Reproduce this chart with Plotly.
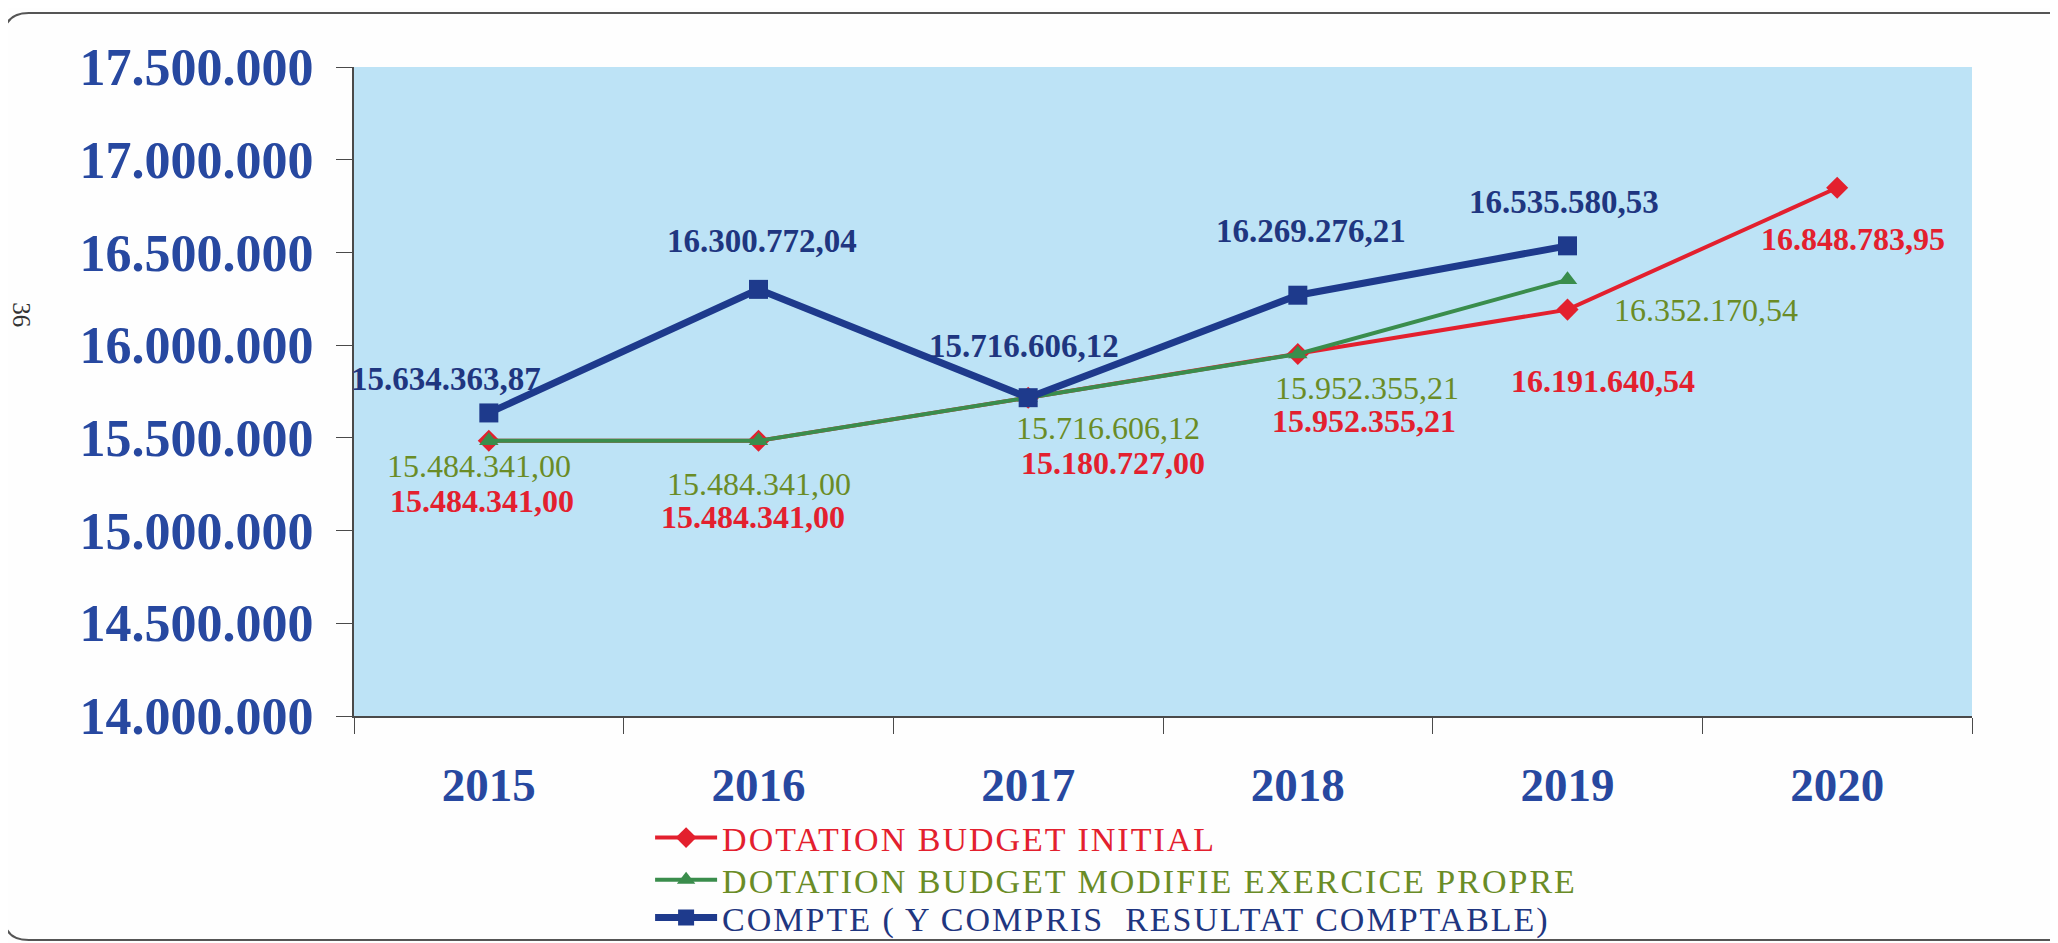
import plotly.graph_objects as go

# ---------------- data ----------------
years = ["2015", "2016", "2017", "2018", "2019", "2020"]

budget_initial = [15484341.00, 15484341.00, 15716606.12, 15952355.21, 16191640.54, 16848783.95]
budget_initial_labels = ["15.484.341,00", "15.484.341,00", "15.180.727,00",
                         "15.952.355,21", "16.191.640,54", "16.848.783,95"]

budget_modifie = [15484341.00, 15484341.00, 15716606.12, 15952355.21, 16352170.54, None]
budget_modifie_labels = ["15.484.341,00", "15.484.341,00", "15.716.606,12",
                         "15.952.355,21", "16.352.170,54", None]

compte = [15634363.87, 16300772.04, 15716606.12, 16269276.21, 16535580.53, None]
compte_labels = ["15.634.363,87", "16.300.772,04", "15.716.606,12",
                 "16.269.276,21", "16.535.580,53", None]

y_tick_vals = [14000000, 14500000, 15000000, 15500000, 16000000, 16500000, 17000000, 17500000]
y_tick_text = ["14.000.000", "14.500.000", "15.000.000", "15.500.000",
               "16.000.000", "16.500.000", "17.000.000", "17.500.000"]

series_names = ["DOTATION BUDGET INITIAL",
                "DOTATION BUDGET MODIFIE EXERCICE PROPRE",
                "COMPTE ( Y COMPRIS  RESULTAT COMPTABLE)"]

# ---------------- style ----------------
RED = "#e3202e"
GREEN_LINE = "#3a8d4c"
GREEN_TEXT = "#6a8c26"
BLUE_LINE = "#1e3a8c"
BLUE_TEXT = "#1f3680"
AXIS_TEXT = "#2748a0"
FONT = "Liberation Serif"

# label pixel offsets (dx, dy) relative to each point
red_off = [(-7, -60), (-6, -76), (85, -65), (66, -67), (35, -71), (16, -51)]
green_off = [(-10, -25), (0, -43), (80, -30), (69, -34), (138, -30), None]
blue_off = [(-43, 34), (3, 48), (-4, 52), (13, 64), (-4, 44), None]

fig = go.Figure()


def legend_name(text, color):
    return f"<span style='color:{color};letter-spacing:2px'>{text}</span>"


fig.add_trace(go.Scatter(
    x=years, y=budget_initial, mode="lines+markers",
    name=legend_name(series_names[0], RED), legend="legend",
    line=dict(color=RED, width=4),
    marker=dict(symbol="diamond", size=17, color=RED),
))
fig.add_trace(go.Scatter(
    x=years, y=budget_modifie, mode="lines+markers",
    name=legend_name(series_names[1], GREEN_TEXT), legend="legend2",
    line=dict(color=GREEN_LINE, width=4),
    marker=dict(symbol="triangle-up", size=17, color=GREEN_LINE),
))
fig.add_trace(go.Scatter(
    x=years, y=compte, mode="lines+markers",
    name=legend_name(series_names[2], BLUE_TEXT), legend="legend3",
    line=dict(color=BLUE_LINE, width=7),
    marker=dict(symbol="square", size=19, color=BLUE_LINE),
))

annotations = []


def add_labels(values, labels, offs, color, size, bold):
    for i, (v, lab, off) in enumerate(zip(values, labels, offs)):
        if v is None or lab is None or off is None:
            continue
        txt = f"<b>{lab}</b>" if bold else lab
        annotations.append(dict(
            x=i, y=v, xref="x", yref="y", text=txt, showarrow=False,
            xshift=off[0], yshift=off[1],
            font=dict(family=FONT, size=size, color=color),
        ))


add_labels(budget_initial, budget_initial_labels, red_off, RED, 32, True)
add_labels(budget_modifie, budget_modifie_labels, green_off, GREEN_TEXT, 32, False)
add_labels(compte, compte_labels, blue_off, BLUE_TEXT, 33, True)

# page number
annotations.append(dict(
    x=-0.206, y=0.618, xref="paper", yref="paper", text="36", showarrow=False,
    xanchor="center", yanchor="middle",
    textangle=90, font=dict(family=FONT, size=25, color="#333333"),
))

# rounded outer frame (paper coords)
L, R, T, B = -0.2165, 1.07, 1.0832, -0.3451
rx, ry = 0.0155, 0.0385
frame_path = (f"M {L+rx},{B} Q {L},{B} {L},{B+ry} L {L},{T-ry} Q {L},{T} {L+rx},{T} "
              f"L {R},{T} M {L+rx},{B} L {R},{B}")


def legend_box(ypos):
    return dict(
        x=0.183, y=ypos, xanchor="left", yanchor="middle",
        font=dict(family=FONT, size=34),
        bgcolor="rgba(0,0,0,0)", itemwidth=62, tracegroupgap=0,
    )


fig.update_layout(
    width=2058, height=943,
    margin=dict(l=346, r=94, t=59, b=235, autoexpand=False),
    paper_bgcolor="#fefefe",
    plot_bgcolor="#bde3f6",
    font=dict(family=FONT),
    showlegend=True,
    legend=legend_box(-0.188),
    legend2=legend_box(-0.253),
    legend3=legend_box(-0.311),
    annotations=annotations,
    shapes=[dict(type="path", path=frame_path, xref="paper", yref="paper",
                 line=dict(color="#555555", width=2), layer="above")],
    xaxis=dict(
        type="category", range=[-0.5, 5.5], showgrid=False, showline=True,
        linecolor="#4a4a4a", linewidth=2,
        ticks="outside", tickson="boundaries", ticklen=16, tickcolor="#4a4a4a",
        tickangle=0,
        tickfont=dict(family=FONT, size=47, color=AXIS_TEXT, weight="bold"),
        ticklabelstandoff=27, zeroline=False,
    ),
    yaxis=dict(
        range=[14000000, 17500000], showgrid=False, showline=True,
        linecolor="#4a4a4a", linewidth=2,
        tickvals=y_tick_vals, ticktext=y_tick_text,
        ticks="outside", ticklen=16, tickcolor="#4a4a4a",
        tickfont=dict(family=FONT, size=52, color=AXIS_TEXT, weight="bold"),
        ticklabelstandoff=12, zeroline=False,
    ),
)

fig.write_html("out.html")
